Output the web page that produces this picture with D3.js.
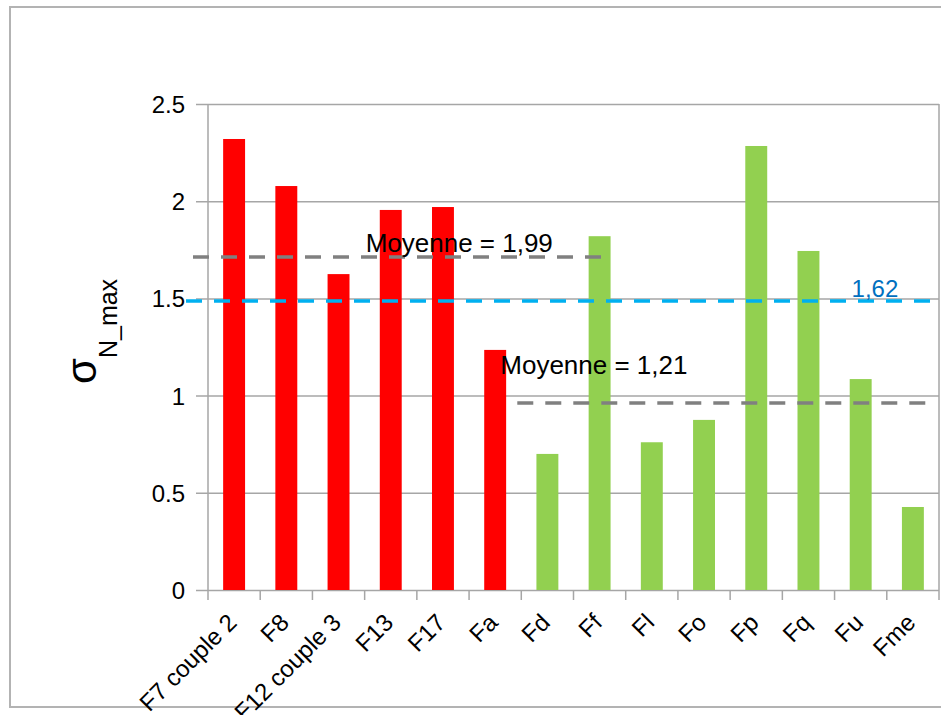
<!DOCTYPE html>
<html>
<head>
<meta charset="utf-8">
<script src="https://cdn.jsdelivr.net/npm/d3@7"></script>
<style>
  html, body { margin: 0; padding: 0; background: #fff; }
  svg { display: block; font-family: "Liberation Sans", Arial, sans-serif; }
</style>
</head>
<body>
<svg id="chart" width="941" height="715"></svg>
<script>
// ---- data ----
const categories = ["F7 couple 2", "F8", "F12 couple 3", "F13", "F17", "Fa",
                    "Fd", "Ff", "Fl", "Fo", "Fp", "Fq", "Fu", "Fme"];
const values = [2.32, 2.078, 1.625, 1.955, 1.97, 1.235,
                0.70, 1.82, 0.76, 0.875, 2.284, 1.744, 1.085, 0.427];
const groups = ["A", "A", "A", "A", "A", "A", "B", "B", "B", "B", "B", "B", "B", "B"];
const yTicks = [0, 0.5, 1, 1.5, 2, 2.5];
const yTickLabels = ["0", "0.5", "1", "1.5", "2", "2.5"];
const meanA = 1.713, meanALabel = "Moyenne = 1,99";
const meanB = 0.962, meanBLabel = "Moyenne = 1,21";
const overall = 1.487, overallLabel = "1,62";

// ---- layout ----
const svg = d3.select("#chart");
const pLeft = 208, pRight = 939, pTop = 104, pBottom = 590;
const colors = { A: "#ff0000", B: "#92d050" };

// outer frame
svg.append("rect").attr("x", 10).attr("y", 7).attr("width", 1000).attr("height", 700)
  .attr("fill", "none").attr("stroke", "#b3b3b3").attr("stroke-width", 2);

const x = d3.scaleBand().domain(categories).range([pLeft, pRight]).paddingInner(0.58).paddingOuter(0.29);
const xb = d3.scaleBand().domain(categories).range([pLeft, pRight]);
const y = d3.scaleLinear().domain([0, 2.5]).range([pBottom, pTop]);

// gridlines with left ticks
const yAxis = d3.axisLeft(y).tickValues(yTicks)
  .tickFormat((d, i) => yTickLabels[i])
  .tickSize(-(pRight - pLeft)).tickPadding(12);
const gy = svg.append("g").attr("transform", `translate(${pLeft},0)`).call(yAxis);
gy.select(".domain").remove();
gy.selectAll(".tick line").attr("stroke", "#a6a6a6").attr("stroke-width", 1.5)
  .attr("x1", -12);
gy.selectAll(".tick text").attr("font-size", 24).attr("fill", "#000")
  .attr("font-family", "Liberation Sans, Arial, sans-serif").attr("x", -23).attr("dy", "0.35em");

// axes lines
svg.append("line").attr("x1", pLeft).attr("x2", pLeft).attr("y1", pTop).attr("y2", pBottom)
  .attr("stroke", "#a6a6a6").attr("stroke-width", 1.5);
svg.append("line").attr("x1", pRight).attr("x2", pRight).attr("y1", pTop).attr("y2", pBottom)
  .attr("stroke", "#a6a6a6").attr("stroke-width", 1.5);

// x axis ticks at band boundaries
const boundaries = categories.map(c => xb(c)).concat([pRight]);
svg.append("g").selectAll("line").data(boundaries).join("line")
  .attr("x1", d => d).attr("x2", d => d).attr("y1", pBottom).attr("y2", pBottom + 10)
  .attr("stroke", "#a6a6a6").attr("stroke-width", 1.5);

// bars
svg.append("g").selectAll("rect").data(categories).join("rect")
  .attr("x", d => x(d))
  .attr("width", x.bandwidth())
  .attr("y", (d, i) => y(values[i]))
  .attr("height", (d, i) => y(0) - y(values[i]))
  .attr("fill", (d, i) => colors[groups[i]]);

// x labels
svg.append("g").selectAll("text").data(categories).join("text")
  .attr("transform", d => `translate(${xb(d) + xb.bandwidth() / 2 + 4},${pBottom + 34}) rotate(-45)`)
  .attr("text-anchor", "end")
  .attr("font-size", 24)
  .attr("fill", "#000")
  .text(d => d);

// reference lines
function refLine(x1, x2, v, color) {
  svg.append("line").attr("x1", x1).attr("x2", x2).attr("y1", y(v)).attr("y2", y(v))
    .attr("stroke", color).attr("stroke-width", 3.5).attr("stroke-dasharray", "16,12");
}
refLine(pLeft - 15, xb("Ff") + xb.bandwidth() / 2 + 2, meanA, "#808080");
refLine(xb("Fd") - 4, xb("Fme") + xb.bandwidth() / 2 + 13, meanB, "#808080");
refLine(pLeft - 22, pRight - 4, overall, "#00b0f0");

svg.append("text").attr("x", xb("F13") + 1).attr("y", y(meanA) - 5)
  .attr("font-size", 26).attr("fill", "#000").text(meanALabel);
svg.append("text").attr("x", xb("Fd") - 21).attr("y", y(meanB) - 29)
  .attr("font-size", 26).attr("fill", "#000").text(meanBLabel);
svg.append("text").attr("x", xb("Fu") + 17).attr("y", y(overall) - 4)
  .attr("font-size", 24).attr("fill", "#0070c0").text(overallLabel);

// y axis title
const title = svg.append("text")
  .attr("transform", `translate(96,384) rotate(-90)`)
  .attr("fill", "#000");
title.append("tspan").attr("font-size", 42).text("σ");
title.append("tspan").attr("font-size", 25).attr("dy", 21).text("N_max");
</script>
</body>
</html>
